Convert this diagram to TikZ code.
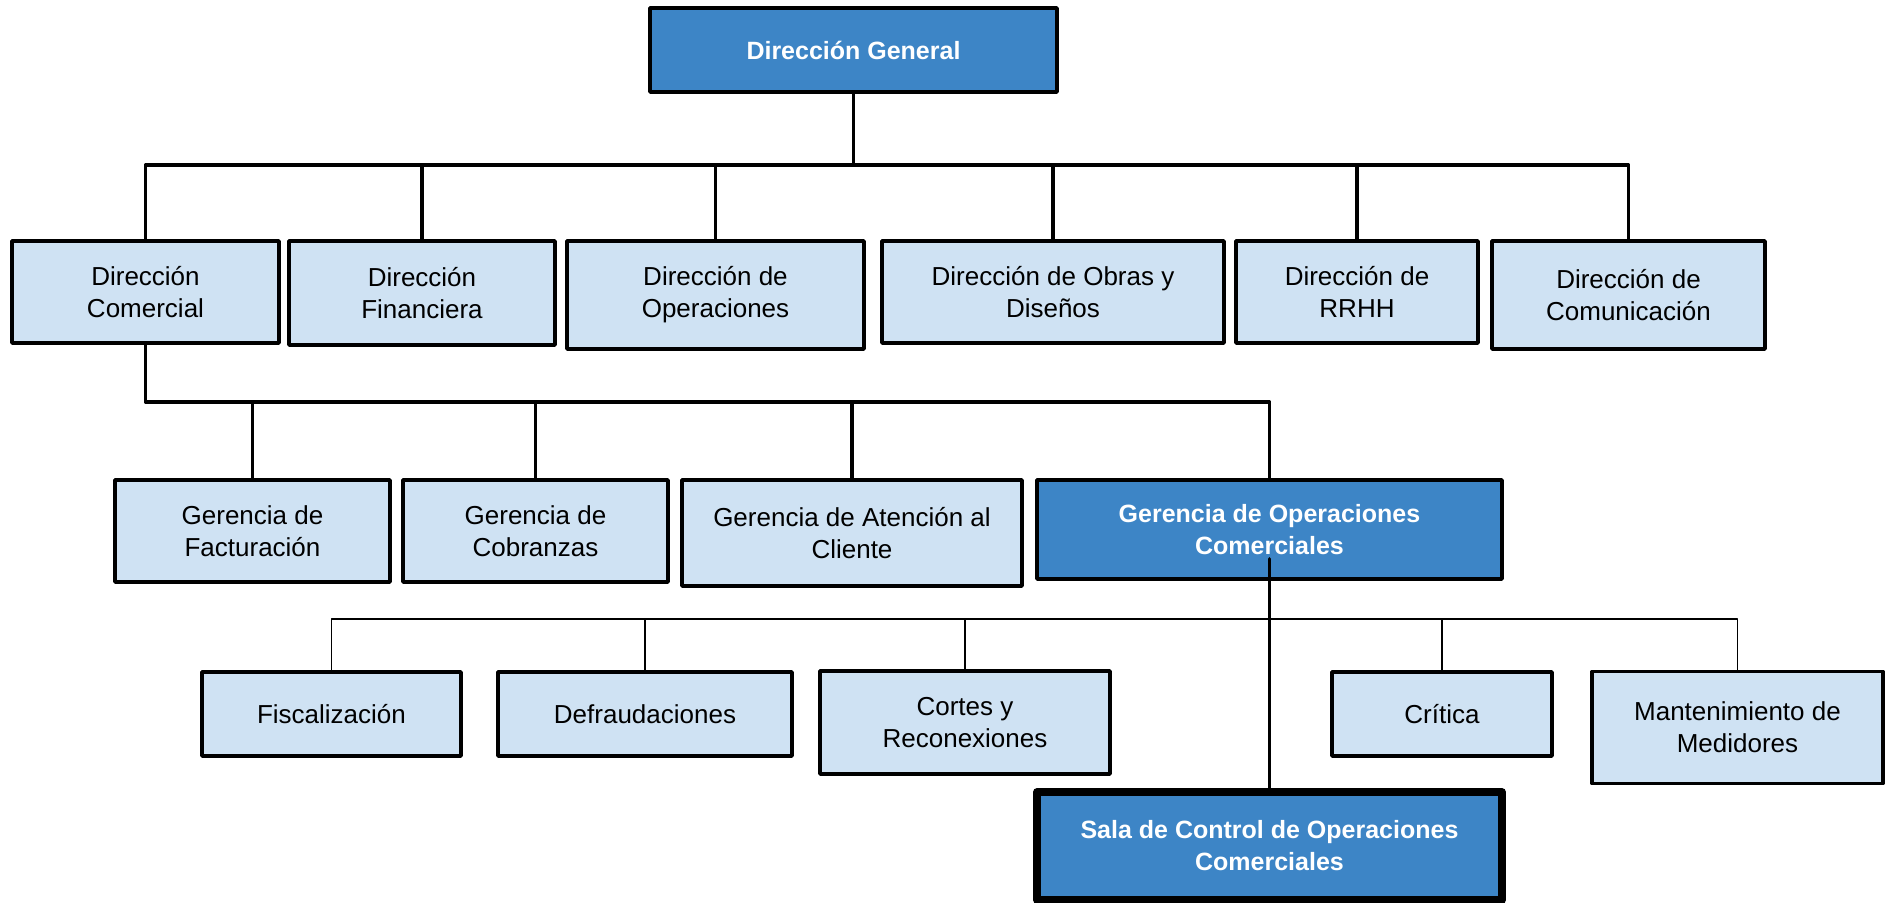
\documentclass[tikz,border=0pt]{standalone}
\usepackage{fontspec}
\setmainfont{Liberation Sans}
\definecolor{cajaclara}{HTML}{CFE2F3}
\definecolor{cajaoscura}{HTML}{3D85C6}
\tikzset{
	caja/.style={draw=black,line width=1.8pt,fill=cajaclara,inner sep=0pt,align=center,font=\fontsize{13}{16}\selectfont},
	cajaosc/.style={caja,fill=cajaoscura,text=white,font=\fontsize{12.5}{16}\selectfont\bfseries},
	linea/.style={line width=1.8pt},
	lineafina/.style={line width=0.9pt}
}
\begin{document}
\begin{tikzpicture}[line cap=round,line join=round,x=0.5pt,y=-0.5pt]
			\useasboundingbox (0.,0.) rectangle (1887.,902.);
			\node [cajaosc,minimum width=203.5pt,minimum height=42pt] (dg) at (853.5,50.) {Dirección General};
			\node [caja,minimum width=133.5pt,minimum height=51pt] (dc) at (145.5,292.) {Dirección\\Comercial};
			\node [caja,minimum width=133pt,minimum height=52pt] (df) at (422.,293.) {Dirección\\Financiera};
			\node [caja,minimum width=148.5pt,minimum height=54pt] (dop) at (715.5,295.) {Dirección de\\Operaciones};
			\node [caja,minimum width=171pt,minimum height=51pt] (dod) at (1053.,292.) {Dirección de Obras y\\Diseños};
			\node [caja,minimum width=121pt,minimum height=51pt] (drh) at (1357.,292.) {Dirección de\\RRHH};
			\node [caja,minimum width=136.5pt,minimum height=54pt] (dcom) at (1628.5,295.) {Dirección de\\Comunicación};
			\node [caja,minimum width=137.5pt,minimum height=51pt] (gf) at (252.5,531.) {Gerencia de\\Facturación};
			\node [caja,minimum width=132.5pt,minimum height=51pt] (gc) at (535.5,531.) {Gerencia de\\Cobranzas};
			\node [caja,minimum width=170pt,minimum height=53pt] (gac) at (852.,533.) {Gerencia de Atención al\\Cliente};
			\node [cajaosc,minimum width=232.5pt,minimum height=49.5pt] (gop) at (1269.5,529.5) {Gerencia de Operaciones\\Comerciales};
			\node [caja,minimum width=129.5pt,minimum height=42pt] (fis) at (331.5,714.) {Fiscalización};
			\node [caja,minimum width=147pt,minimum height=42pt] (def) at (645.,714.) {Defraudaciones};
			\node [caja,minimum width=145pt,minimum height=51.5pt] (cor) at (965.,722.5) {Cortes y\\Reconexiones};
			\node [caja,minimum width=110pt,minimum height=42pt] (cri) at (1442.,714.) {Crítica};
			\node [caja,minimum width=145.5pt,minimum height=56pt] (mm) at (1737.5,727.5) {Mantenimiento de\\Medidores};
			\node [cajaosc,line width=3.8pt,minimum width=232.5pt,minimum height=54pt] (sala) at (1269.5,846.) {Sala de Control de Operaciones\\Comerciales};
			\coordinate (b2) at (0.,165.);
			\coordinate (b3) at (0.,402.);
			\coordinate (b4) at (0.,619.);
			\draw [linea] (dg.south)-- (dg.south |- b2);
			\draw [linea] (dc.north)-- (dc.north |- b2) -| (dcom.north);
			\draw [linea] (df.north)-- (df.north |- b2);
			\draw [linea] (dop.north)-- (dop.north |- b2);
			\draw [linea] (dod.north)-- (dod.north |- b2);
			\draw [linea] (drh.north)-- (drh.north |- b2);
			\draw [linea] (dc.south)-- (dc.south |- b3) -| (gop.north);
			\draw [linea] (gf.north)-- (gf.north |- b3);
			\draw [linea] (gc.north)-- (gc.north |- b3);
			\draw [linea] (gac.north)-- (gac.north |- b3);
			\draw [lineafina] (fis.north)-- (fis.north |- b4) -| (mm.north);
			\draw [lineafina] (def.north)-- (def.north |- b4);
			\draw [lineafina] (cor.north)-- (cor.north |- b4);
			\draw [lineafina] (cri.north)-- (cri.north |- b4);
			\draw [linea] ([yshift=11pt]gop.south)-- (sala.north);
		\end{tikzpicture}
\end{document}
